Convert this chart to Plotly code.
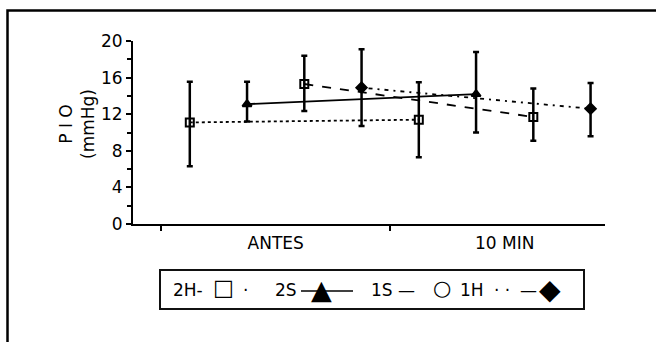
import plotly.graph_objects as go

categories = ["ANTES", "10 MIN"]
series_names = ["2H", "2S", "1S", "1H"]
values = {
    "2H": [11.1, 11.4],
    "2S": [13.1, 14.2],
    "1S": [15.3, 11.7],
    "1H": [14.9, 12.6],
}
upper = {
    "2H": [15.55, 15.5],
    "2S": [15.55, 18.8],
    "1S": [18.4, 14.8],
    "1H": [19.1, 15.4],
}
lower = {
    "2H": [6.3, 7.3],
    "2S": [11.2, 10.0],
    "1S": [12.35, 9.1],
    "1H": [10.7, 9.6],
}
y_ticks = [0, 4, 8, 12, 16, 20]

styles = {
    "2H": dict(symbol="square-open", size=8, dash="dot"),
    "2S": dict(symbol="triangle-up", size=8, dash="solid"),
    "1S": dict(symbol="square-open", size=8, dash="dash"),
    "1H": dict(symbol="diamond", size=8, dash="2px,5px,4px,5px"),
}

FONT = "DejaVu Sans, Verdana, sans-serif"
L, T, PW, PH = 133, 41, 472, 183


def px(x):
    return (x - L) / PW


def py(y):
    return (T + PH - y) / PH


fig = go.Figure()
for name in series_names:
    v = values[name]
    st = styles[name]
    fig.add_trace(go.Scatter(
        x=categories, y=v, name=name, mode="lines+markers",
        offsetgroup=name,
        line=dict(color="black", width=1.8, dash=st["dash"]),
        marker=dict(symbol=st["symbol"], size=st["size"], color="black",
                    line=dict(color="black", width=2)),
        error_y=dict(type="data", symmetric=False,
                     array=[u - m for u, m in zip(upper[name], v)],
                     arrayminus=[m - l for m, l in zip(v, lower[name])],
                     color="black", thickness=2.5, width=3),
        showlegend=False,
    ))

# legend drawn as a boxed row of text pieces (as in the original figure)
legend_pieces = [
    ("2H-", 171, 290, "left", 17),
    ("□", 211, 287, "left", 22),
    ("·", 241, 290, "left", 17),
    ("2S", 273, 290, "left", 17),
    ("▲", 321, 289, "center", 27),
    ("1S", 369, 290, "left", 17),
    ("—", 396, 290, "left", 17),
    ("○", 442, 288, "center", 21),
    ("1H", 458, 290, "left", 17),
    ("· ·", 492, 290, "left", 17),
    ("—", 518, 290, "left", 17),
    ("◆", 550, 289, "center", 28),
]
annotations = [
    dict(text="P I O<br>(mmHg)", textangle=-90, xref="paper", yref="paper",
         x=px(77), y=py(124), xanchor="center", yanchor="middle",
         showarrow=False, font=dict(size=17)),
]
for txt, x, y, anchor, size in legend_pieces:
    annotations.append(dict(text=txt, xref="paper", yref="paper", x=px(x),
                            y=py(y), xanchor=anchor, yanchor="middle",
                            showarrow=False, font=dict(size=size)))

fig.update_layout(
    width=656, height=342,
    margin=dict(l=L, r=656 - L - PW, t=T, b=342 - T - PH),
    paper_bgcolor="white", plot_bgcolor="white",
    scattermode="group", scattergap=0,
    font=dict(family=FONT, size=17, color="black"),
    xaxis=dict(type="category", range=[-0.623, 1.438], showline=True,
               linecolor="black", linewidth=2, ticks="outside",
               tickson="boundaries", ticklen=5, tickwidth=2, tickcolor="black",
               ticklabelstandoff=3,
               showgrid=False, zeroline=False, fixedrange=True),
    yaxis=dict(range=[0, 20], tickvals=y_ticks, showline=True,
               linecolor="black", linewidth=2, ticks="outside", ticklen=5,
               tickwidth=2, tickcolor="black", showgrid=False, zeroline=False,
               minor=dict(dtick=2, ticks="outside", ticklen=4, tickwidth=2,
                          tickcolor="black", showgrid=False)),
    annotations=annotations,
    shapes=[
        dict(type="rect", xref="paper", yref="paper", x0=px(7.5), x1=2.0,
             y0=-2.0, y1=py(10.5), line=dict(color="black", width=2.5)),
        dict(type="rect", xref="paper", yref="paper", x0=px(160), x1=px(584),
             y0=py(309), y1=py(270), line=dict(color="#111", width=2)),
        # solid line sample behind the 2S triangle in the legend
        dict(type="line", xref="paper", yref="paper", x0=px(301), x1=px(353),
             y0=py(291), y1=py(291), line=dict(color="black", width=1.5),
             layer="below"),
    ],
)

fig.write_html("out.html", config={"displayModeBar": False},
               post_script="document.body.style.margin='0px';")
